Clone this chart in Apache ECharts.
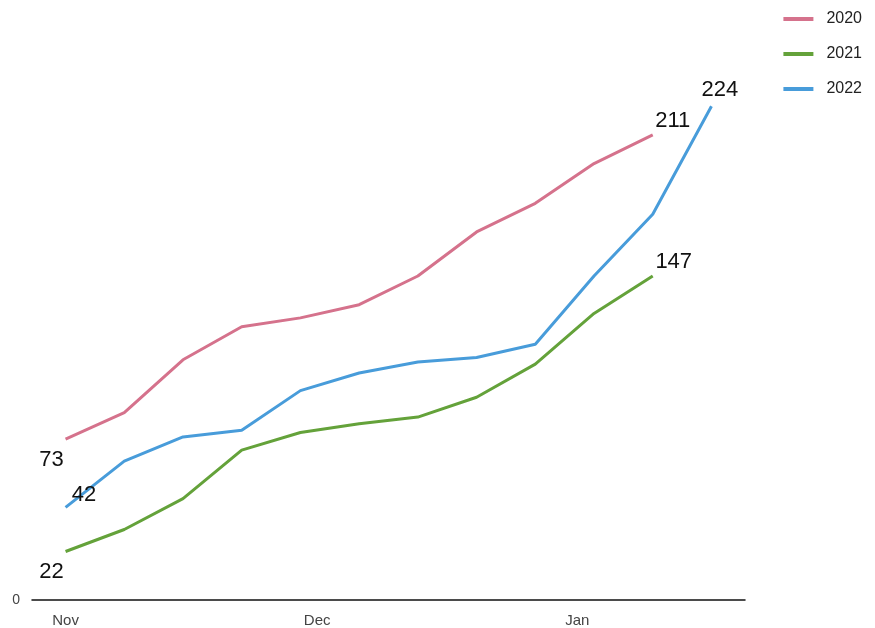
<!DOCTYPE html>
<html>
<head>
<meta charset="utf-8">
<script src="https://cdn.jsdelivr.net/npm/echarts@6/dist/echarts.min.js"></script>
<style>html,body{margin:0;padding:0;background:#fff}#c{width:875px;height:628px}</style>
</head>
<body>
<div id="c"></div>
<script>
// Days since 1 Nov (weekly observations)
const days = [0, 7, 14, 21, 28, 35, 42, 49, 56, 63, 70, 77];
const seriesNames = ['2020', '2021', '2022'];
const values2020 = [73, 85, 109, 124, 128, 134, 147, 167, 180, 198, 211];
const values2021 = [22, 32, 46, 68, 76, 80, 83, 92, 107, 130, 147];
const values2022 = [42, 63, 74, 77, 95, 103, 108, 110, 116, 147, 175, 224];
const monthTicks = [0, 30, 61];
const monthLabels = ['Nov', 'Dec', 'Jan'];
const yTicks = [0];

const colors = ['#D5728C', '#64A23A', '#489CDA'];
const allValues = [values2020, values2021, values2022];
const startOffsets = [[-14, 21], [-14, 20.5], [18.5, -12.5]];
const endOffsets = [[20, -14], [21, -14], [8.5, -16]];

function build(vals, idx) {
  return vals.map((v, i) => {
    const item = { value: [days[i], v] };
    if (i === 0 || i === vals.length - 1) {
      const off = i === 0 ? startOffsets[idx] : endOffsets[idx];
      item.label = {
        show: true,
        position: 'inside',
        offset: off,
        formatter: String(v),
        fontSize: 22,
        color: '#111',
        fontFamily: 'Liberation Sans, Arial, sans-serif'
      };
    }
    return item;
  });
}

const chart = echarts.init(document.getElementById('c'), null, { renderer: 'canvas' });
chart.setOption({
  animation: false,
  backgroundColor: '#fff',
  color: colors,
  textStyle: { fontFamily: 'Liberation Sans, Arial, sans-serif' },
  legend: {
    orient: 'vertical',
    right: 8,
    top: 6,
    itemGap: 19,
    itemWidth: 30,
    itemHeight: 4,
    icon: 'rect',
    data: seriesNames,
    textStyle: { fontSize: 16, color: '#222', padding: [0, 0, 0, 8] }
  },
  grid: { left: 32, right: 130, top: 49, bottom: 28 },
  xAxis: {
    type: 'value',
    min: -4,
    max: 81,
    splitLine: { show: false },
    axisLine: { show: true, onZero: false, lineStyle: { color: '#111', width: 1.5 } },
    axisTick: { show: false },
    axisLabel: {
      customValues: monthTicks,
      formatter: v => monthLabels[monthTicks.indexOf(v)],
      color: '#444',
      fontSize: 15,
      margin: 13
    }
  },
  yAxis: {
    type: 'value',
    min: 0,
    max: 250,
    splitLine: { show: false },
    axisLine: { show: false },
    axisTick: { show: false },
    axisLabel: {
      customValues: yTicks,
      color: '#444',
      fontSize: 14,
      margin: 12
    }
  },
  series: seriesNames.map((name, idx) => ({
    name: name,
    type: 'line',
    data: build(allValues[idx], idx),
    showSymbol: true,
    symbol: 'circle',
    symbolSize: 0,
    lineStyle: { width: 3, color: colors[idx] },
    itemStyle: { color: colors[idx] }
  }))
});
</script>
</body>
</html>
